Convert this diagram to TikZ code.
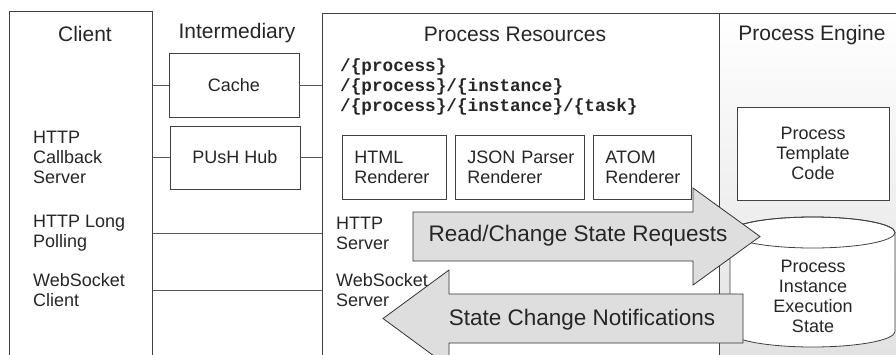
\documentclass[tikz,border=0pt]{standalone}
\usepackage{fontspec}
\setmainfont{Liberation Sans}
\setmonofont{Liberation Mono}
\usepackage{tikz}
\usetikzlibrary{positioning}

\begin{document}
\begin{tikzpicture}[x=1pt,y=-1pt,
    every node/.style={inner sep=0pt,text=black!85},
    panel/.style={draw=black!75,line width=0.8pt,anchor=north west,minimum height=360pt},
    box/.style={draw=black!75,line width=0.8pt,fill=white,minimum height=64pt,align=center,
      font=\fontsize{18}{20}\selectfont},
    title/.style={font=\fontsize{21}{24}\selectfont,anchor=base},
    label/.style={font=\fontsize{18}{20}\selectfont,align=left,anchor=west},
    link/.style={draw=black!65,line width=0.8pt},
    bigarrow/.style={draw=black!80,line width=0.8pt,fill=black!13,line join=miter},
    arrowtext/.style={font=\fontsize{22.5}{24}\selectfont}]
      \useasboundingbox (0,0) rectangle (896,354);
      \clip (0,0) rectangle (896,354);

      %%%%%%%%%%%%%%%%%%%%%%%%%%%%%%%%%%%%%%%%%%%%%%%%%%%%%%%%%%%%%%%%%%%%%%%%%%
      %%% BEGIN: PANELS.
      %%%%%%%%%%%%%%%%%%%%%%%%%%%%%%%%%%%%%%%%%%%%%%%%%%%%%%%%%%%%%%%%%%%%%%%%%%
      \node[panel,minimum width=143pt] (client) at (9,11) {};
      \node[panel,minimum width=397pt] (res) at (322,13) {};
      \node[panel,minimum width=200pt,top color=white,bottom color=black!12] (engine) at (719,13) {};

      \node[title] (clienttitle) at (85,41) {Client};
      \node[title] (intertitle) at (237,38.5) {Intermediary};
      \node[title] (restitle) at (515,41) {Process Resources};
      \node[title] (enginetitle) at (812,40) {Process Engine};
      %%%%%%%%%%%%%%%%%%%%%%%%%%%%%%%%%%%%%%%%%%%%%%%%%%%%%%%%%%%%%%%%%%%%%%%%%%
      %%% END: PANELS.
      %%%%%%%%%%%%%%%%%%%%%%%%%%%%%%%%%%%%%%%%%%%%%%%%%%%%%%%%%%%%%%%%%%%%%%%%%%

      %%%%%%%%%%%%%%%%%%%%%%%%%%%%%%%%%%%%%%%%%%%%%%%%%%%%%%%%%%%%%%%%%%%%%%%%%%
      %%% BEGIN: CLIENT AND INTERMEDIARY.
      %%%%%%%%%%%%%%%%%%%%%%%%%%%%%%%%%%%%%%%%%%%%%%%%%%%%%%%%%%%%%%%%%%%%%%%%%%
      \node[label] (callback) at (33,157) {HTTP\\Callback\\Server};
      \node[label] (poll) at (33,233) {HTTP Long\\Polling};
      \node[label] (wsclient) at (33,290) {WebSocket\\Client};

      \node[box,minimum width=130pt] (cache) at (234,85) {Cache};
      \node[box,minimum width=130pt,minimum height=63pt] (hub) at (235,157.5) {PUsH Hub};

      % Links to the resources.
      \draw[link] (client.east |- cache.west) -- (cache.west);
      \draw[link] (cache.east) -- (cache.east -| res.west);
      \draw[link] (client.east |- hub.west) -- (hub.west);
      \draw[link] (hub.east) -- (hub.east -| res.west);
      \draw[link] (client.east |- poll.east) -- (res.west |- poll.east);
      \draw[link] (client.east |- wsclient.east) -- (res.west |- wsclient.east);
      %%%%%%%%%%%%%%%%%%%%%%%%%%%%%%%%%%%%%%%%%%%%%%%%%%%%%%%%%%%%%%%%%%%%%%%%%%
      %%% END: CLIENT AND INTERMEDIARY.
      %%%%%%%%%%%%%%%%%%%%%%%%%%%%%%%%%%%%%%%%%%%%%%%%%%%%%%%%%%%%%%%%%%%%%%%%%%

      %%%%%%%%%%%%%%%%%%%%%%%%%%%%%%%%%%%%%%%%%%%%%%%%%%%%%%%%%%%%%%%%%%%%%%%%%%
      %%% BEGIN: PROCESS RESOURCES.
      %%%%%%%%%%%%%%%%%%%%%%%%%%%%%%%%%%%%%%%%%%%%%%%%%%%%%%%%%%%%%%%%%%%%%%%%%%
      \node[label,font=\ttfamily\bfseries\fontsize{17.7}{20}\selectfont] (paths) at (340,87)
        {/\{process\}\\/\{process\}/\{instance\}\\/\{process\}/\{instance\}/\{task\}};

      % Renderers.
      \foreach \name/\x/\tw/\txt in {html/342/80/{HTML\\Renderer},json/455/105/{JSON~Parser\\Renderer},atom/593/74/{ATOM\\Renderer}}{
        \node[box,anchor=west,inner xsep=12pt,text width=\tw pt,align=left] (\name) at (\x,167) {\txt};
      }

      \node[label] (httpserver) at (336,233) {HTTP\\Server};
      \node[label] (wsserver) at (336,290) {WebSocket\\Server};
      %%%%%%%%%%%%%%%%%%%%%%%%%%%%%%%%%%%%%%%%%%%%%%%%%%%%%%%%%%%%%%%%%%%%%%%%%%
      %%% END: PROCESS RESOURCES.
      %%%%%%%%%%%%%%%%%%%%%%%%%%%%%%%%%%%%%%%%%%%%%%%%%%%%%%%%%%%%%%%%%%%%%%%%%%

      %%%%%%%%%%%%%%%%%%%%%%%%%%%%%%%%%%%%%%%%%%%%%%%%%%%%%%%%%%%%%%%%%%%%%%%%%%
      %%% BEGIN: PROCESS ENGINE.
      %%%%%%%%%%%%%%%%%%%%%%%%%%%%%%%%%%%%%%%%%%%%%%%%%%%%%%%%%%%%%%%%%%%%%%%%%%
      \node[box,minimum width=152pt,minimum height=93pt] (template) at (813,153.5) {Process\\Template\\Code};

      % Cylinder for the instance state.
      \node[minimum width=165pt,minimum height=130pt] (state) at (812.5,282) {};
      \filldraw[draw=black!75,line width=0.8pt,fill=white]
        (730,232.5) -- (730,331.5) arc (180:0:82.5 and 15.5) -- (895,232.5) arc (0:-180:82.5 and 15.5) -- cycle;
      \draw[draw=black!75,line width=0.8pt] (812.5,232.5) ellipse (82.5 and 15.5);
      \node[label,anchor=center,align=center] (statetext) at (813,296) {Process\\Instance\\Execution\\State};
      %%%%%%%%%%%%%%%%%%%%%%%%%%%%%%%%%%%%%%%%%%%%%%%%%%%%%%%%%%%%%%%%%%%%%%%%%%
      %%% END: PROCESS ENGINE.
      %%%%%%%%%%%%%%%%%%%%%%%%%%%%%%%%%%%%%%%%%%%%%%%%%%%%%%%%%%%%%%%%%%%%%%%%%%

      % Request and notification arrows.
      \draw[bigarrow] (413,212) -- (693,212) -- (693,188) -- (760,236.5) -- (693,285) -- (693,261) -- (413,261) -- cycle;
      \node[arrowtext] (request) at (578,236) {Read/Change State Requests};
      \draw[bigarrow] (743,294) -- (449,294) -- (449,270) -- (383,318.5) -- (449,367) -- (449,343) -- (743,343) -- cycle;
      \node[arrowtext] (notify) at (582,320) {State Change Notifications};
    \end{tikzpicture}
\end{document}
